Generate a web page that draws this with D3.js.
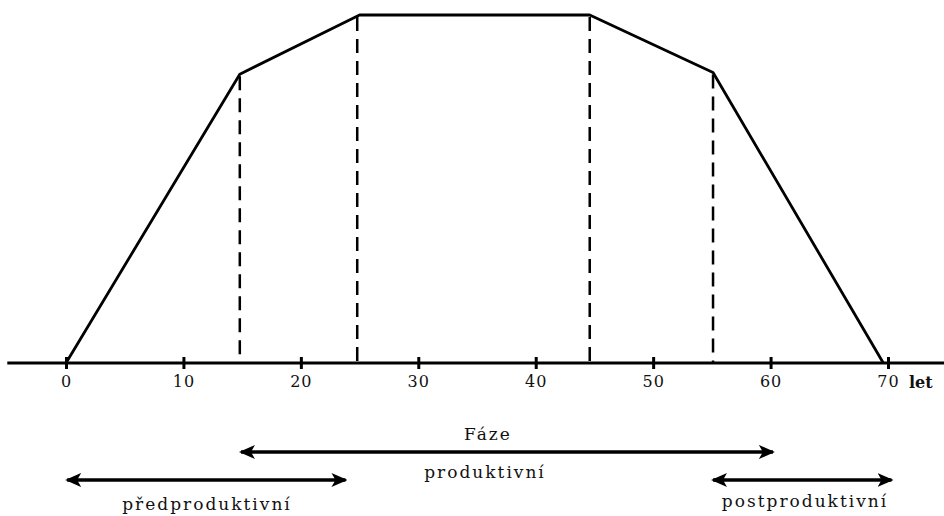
<!DOCTYPE html>
<html>
<head>
<meta charset="utf-8">
<script src="https://cdn.jsdelivr.net/npm/d3@7"></script>
<style>
  body { margin: 0; background: #fff; }
  text { font-family: "DejaVu Serif", serif; fill: #111; }
</style>
</head>
<body>
<svg width="944" height="516"></svg>
<script>
// age (years) and relative activity level of the profile line
var ages = [0, 14.8, 25, 44.6, 55.1, 69.6];
var levels = [0, 83, 100, 100, 83.5, 0];
// dashed phase boundaries
var bounds = [14.8, 24.8, 44.6, 55.1];
// axis ticks
var tickValues = [0, 10, 20, 30, 40, 50, 60, 70];
// phase arrows: [from, to, row]
var phases = [
  { name: "produktivní", from: 14.9, to: 60.2, row: 0 },
  { name: "předproduktivní", from: 0.1, to: 23.8, row: 1 },
  { name: "postproduktivní", from: 55.1, to: 70.3, row: 1 }
];

var svg = d3.select("svg");

var x = d3.scaleLinear().domain([0, 70]).range([66, 888]);
var y = d3.scaleLinear().domain([0, 100]).range([363, 15]);
var rowY = [452, 480];

// arrow head marker
var defs = svg.append("defs");
defs.append("marker")
  .attr("id", "head")
  .attr("markerUnits", "userSpaceOnUse")
  .attr("viewBox", "0 -7 16 14")
  .attr("refX", 14).attr("refY", 0)
  .attr("markerWidth", 16).attr("markerHeight", 14)
  .attr("orient", "auto-start-reverse")
  .append("path")
  .attr("d", "M0,-7 L16,0 L0,7 L4,0 Z")
  .style("fill", "#000");

// dashed verticals
svg.selectAll("line.bound")
  .data(bounds)
  .enter()
  .append("line")
  .attr("class", "bound")
  .attr("x1", function(d) {return x(d)})
  .attr("x2", function(d) {return x(d)})
  .attr("y1", function(d, i) {
    var j = d3.bisectLeft(ages, d - 0.5);
    return y(levels[Math.min(j, ages.length - 1)]) + 2;
  })
  .attr("y2", y(0))
  .style("stroke", "#000")
  .style("stroke-width", 2.5)
  .style("stroke-dasharray", "14,8");

// profile line
var line = d3.line()
  .x(function(d) {return x(d[0])})
  .y(function(d) {return y(d[1])});

svg.append("path")
  .datum(d3.zip(ages, levels))
  .attr("d", line)
  .style("fill", "none")
  .style("stroke", "#000")
  .style("stroke-width", 2.8)
  .style("stroke-linejoin", "round");

// x axis
var xAxis = d3.axisBottom(x).tickValues(tickValues).tickSize(0).tickPadding(13);
var gx = svg.append("g")
  .attr("transform", "translate(0," + y(0) + ")")
  .call(xAxis);
gx.select(".domain").remove();
gx.append("line")
  .attr("x1", x(-5)).attr("x2", 944)
  .style("stroke", "#000").style("stroke-width", 3);
gx.selectAll(".tick line")
  .attr("y1", -6).attr("y2", 6)
  .style("stroke", "#000").style("stroke-width", 3);
gx.selectAll(".tick text")
  .style("font-family", "DejaVu Serif, serif")
  .style("font-size", "16px")
  .style("letter-spacing", "1px")
  .style("fill", "#111");
gx.append("text")
  .attr("x", 909).attr("y", 25)
  .attr("text-anchor", "start")
  .style("font-family", "DejaVu Serif, serif")
  .style("font-size", "16px")
  .style("font-weight", "bold")
  .style("fill", "#111")
  .text("let");

// phase arrows
svg.selectAll("line.phase")
  .data(phases)
  .enter()
  .append("line")
  .attr("class", "phase")
  .attr("x1", function(d) {return x(d.from)})
  .attr("x2", function(d) {return x(d.to)})
  .attr("y1", function(d) {return rowY[d.row]})
  .attr("y2", function(d) {return rowY[d.row]})
  .style("stroke", "#000")
  .style("stroke-width", 3.5)
  .attr("marker-start", "url(#head)")
  .attr("marker-end", "url(#head)");

function label(txt, cx, by) {
  svg.append("text")
    .attr("x", cx).attr("y", by)
    .attr("text-anchor", "middle")
    .style("font-size", "17px")
    .style("letter-spacing", "2px")
    .text(txt);
}

label("Fáze", 488, 440);
label(phases[0].name, 485, 478);
label(phases[1].name, 207, 510);
label(phases[2].name, 805, 507);
</script>
</body>
</html>
